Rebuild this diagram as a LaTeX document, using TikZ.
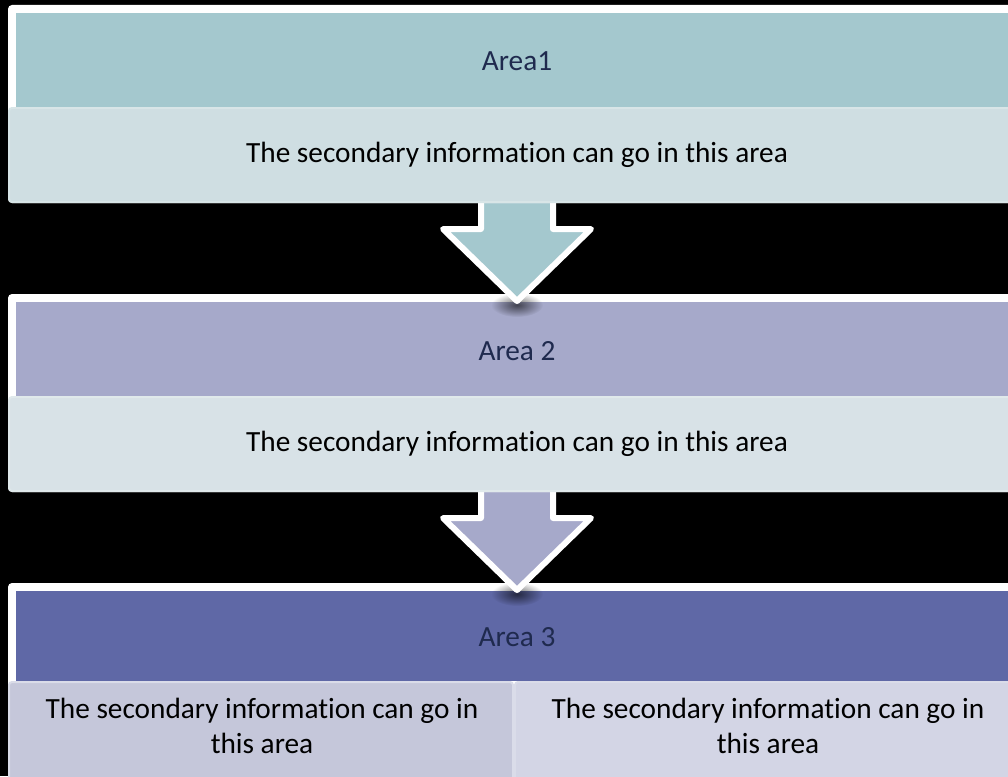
\documentclass[tikz,border=0pt]{standalone}
\usepackage{fontspec}
\setmainfont{Carlito}[Ligatures={TeX,NoCommon}]
\usetikzlibrary{fadings}
\tikzfading[name=softdot, inner color=transparent!0, outer color=transparent!100]
\definecolor{hdrA}{HTML}{A4C8CE}
\definecolor{secA}{HTML}{CFDEE2}
\definecolor{secAedge}{HTML}{D8E5E7}
\definecolor{hdrB}{HTML}{A6A9CA}
\definecolor{secB}{HTML}{D8E2E7}
\definecolor{secBedge}{HTML}{E0E9EB}
\definecolor{hdrC}{HTML}{5F68A6}
\definecolor{secCl}{HTML}{C5C7DA}
\definecolor{secCr}{HTML}{D3D5E5}
\definecolor{secCedge}{HTML}{DADCE9}
\definecolor{lbl}{HTML}{1F2A4E}
\begin{document}
\begin{tikzpicture}[x=1pt,y=-1pt,
  frame/.style={fill=white, rounded corners=4pt},
  secband/.style={rounded corners=3pt, line width=2pt},
  lab/.style={font=\fontsize{29.3}{35}\selectfont, text=lbl, inner sep=0pt},
  info/.style={font=\fontsize{29.3}{35.5}\selectfont, text=black, inner sep=0pt, align=center},
  tipshadow/.style={fill=black, fill opacity=0.6, path fading=softdot},
  blockarrow/.style={draw=white, line width=6pt, line join=round}]
\useasboundingbox (0,0) rectangle (1008,776);
\clip (0,0) rectangle (1008,776);
\fill[black] (0,0) rectangle (1008,776);

% ---- Box 3
\path[frame] (8,583) rectangle (1026,800);
\fill[hdrC] (16,591) rectangle (1018,681);
\draw[secband, fill=secCl, draw=secCedge] (9,682) rectangle (513,800);
\draw[secband, fill=secCr, draw=secCedge] (515,682) rectangle (1022,800);
\node[lab] (a3) at (517,637) {Area 3};
\node[info] (i3l) at (262,726) {The secondary information can go in\\this area};
\node[info] (i3r) at (768,726) {The secondary information can go in\\this area};

% ---- Arrow 2
\path[tipshadow] (517,594) ellipse (26pt and 12pt);
\filldraw[blockarrow, fill=hdrB] (481,470) -- (553,470) -- (553,518) -- (591,518) -- (517,590) -- (443,518) -- (481,518) -- cycle;

% ---- Box 2
\path[frame] (8,294) rectangle (1026,492);
\fill[hdrB] (16,302) rectangle (1018,396);
\draw[secband, fill=secB, draw=secBedge] (9,397) rectangle (1022,491);
\node[lab] (a2) at (517,351) {Area 2};
\node[info] (i2) at (517,444) {The secondary information can go in this area};

% ---- Arrow 1
\path[tipshadow] (517,305) ellipse (26pt and 12pt);
\filldraw[blockarrow, fill=hdrA] (481,180) -- (553,180) -- (553,229) -- (591,229) -- (517,301) -- (443,229) -- (481,229) -- cycle;

% ---- Box 1
\path[frame] (8,5) rectangle (1026,203);
\fill[hdrA] (16,13) rectangle (1018,107);
\draw[secband, fill=secA, draw=secAedge] (9,108) rectangle (1022,202);
\node[lab] (a1) at (517,61) {Area1};
\node[info] (i1) at (517,155) {The secondary information can go in this area};
\end{tikzpicture}
\end{document}
